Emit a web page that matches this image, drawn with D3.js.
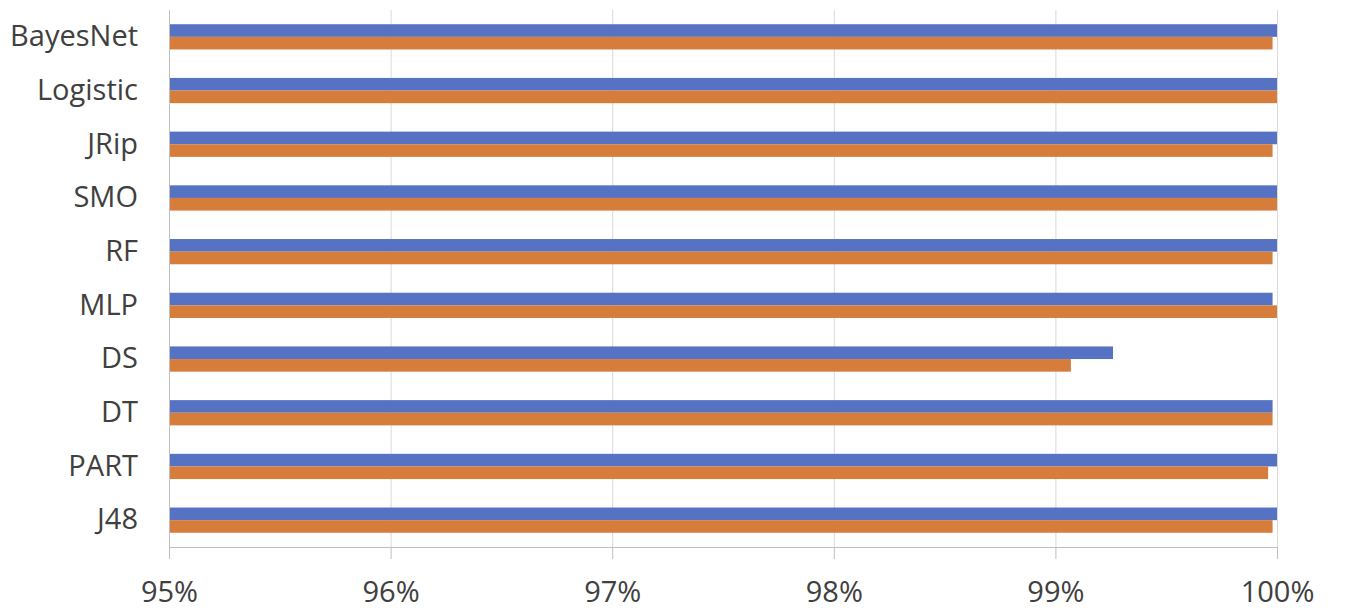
<!DOCTYPE html>
<html>
<head>
<meta charset="utf-8">
<script src="https://cdn.jsdelivr.net/npm/d3@7"></script>
<style>
  html, body { margin: 0; padding: 0; background: #fff; }
  svg { display: block; }
</style>
</head>
<body>
<svg id="chart" width="1354" height="616"></svg>
<script>
const categories = ["BayesNet", "Logistic", "JRip", "SMO", "RF", "MLP", "DS", "DT", "PART", "J48"];
const seriesBlue = [100, 100, 100, 100, 100, 99.98, 99.26, 99.98, 100, 100];
const seriesOrange = [99.98, 100, 99.98, 100, 99.98, 100, 99.07, 99.98, 99.96, 99.98];
const tickValues = [95, 96, 97, 98, 99, 100];
const tickLabels = ["95%", "96%", "97%", "98%", "99%", "100%"];
const seriesNames = ["blue", "orange"];
const colors = ["#5572C3", "#D67D3C"];

const svg = d3.select("#chart");
const plotLeft = 169, plotRight = 1277, plotTop = 10, plotBottom = 547;

const x = d3.scaleLinear().domain([95, 100]).range([plotLeft, plotRight]);
const y = d3.scaleBand().domain(categories).range([plotTop, plotBottom]).paddingInner(0.53).paddingOuter(0.265);
const ySub = d3.scaleBand().domain(seriesNames).range([0, y.bandwidth()]);

// gridlines
svg.append("g").selectAll("line").data(tickValues).join("line")
  .attr("x1", d => x(d) + 0.5).attr("x2", d => x(d) + 0.5)
  .attr("y1", plotTop).attr("y2", plotBottom)
  .attr("stroke", "#d9d9d9").attr("stroke-width", 1);

// bars
const rows = categories.map((c, i) => ({ c, vals: [seriesBlue[i], seriesOrange[i]] }));
const g = svg.append("g");
rows.forEach(r => {
  r.vals.forEach((v, j) => {
    g.append("rect")
      .attr("x", x(95))
      .attr("y", y(r.c) + ySub(seriesNames[j]))
      .attr("width", x(v) - x(95))
      .attr("height", ySub.bandwidth())
      .attr("fill", colors[j]);
  });
});

// left axis line
svg.append("line")
  .attr("x1", plotLeft + 0.5).attr("x2", plotLeft + 0.5)
  .attr("y1", plotTop).attr("y2", plotBottom)
  .attr("stroke", "#bfbfbf");

// bottom axis
const xAxis = d3.axisBottom(x).tickValues(tickValues)
  .tickFormat((d, i) => tickLabels[i]).tickSize(12).tickSizeOuter(0).tickPadding(22);
const ax = svg.append("g").attr("transform", `translate(0,${plotBottom})`).call(xAxis);
ax.select(".domain").attr("stroke", "#bfbfbf");
ax.selectAll(".tick line").attr("stroke", "#bfbfbf");
ax.selectAll("text").attr("font-family", "'Open Sans', sans-serif").attr("font-size", 29)
  .attr("fill", "#404040");

// category axis
const yAxis = d3.axisLeft(y).tickSize(0).tickPadding(31);
const ay = svg.append("g").attr("transform", `translate(${plotLeft},0)`).call(yAxis);
ay.select(".domain").remove();
ay.selectAll("text").attr("font-family", "'Open Sans', sans-serif").attr("font-size", 29)
  .attr("fill", "#404040");
</script>
</body>
</html>
